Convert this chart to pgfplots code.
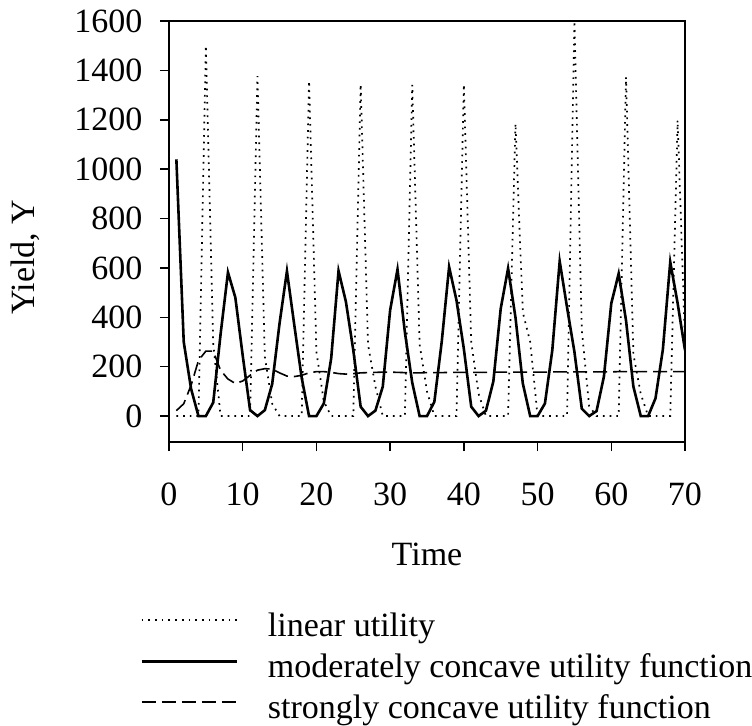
\documentclass[border=0pt]{standalone}
\usepackage{fontspec}
\setmainfont{Liberation Serif}
\usepackage{pgfplots}
\pgfplotsset{compat=1.18}
\usepackage{pgfplotstable}

\pgfplotstableread{
t lin mod str
1 0 1040 22
2 0 300 50
3 0 110 125
4 0 0 225
5 1500 0 263
6 294 55 263
7 0 332 185
8 0 582 150
9 0 480 132
10 0 245 142
11 0 24 165
12 1377 0 186
13 240 24 192
14 50 130 190
15 0 376 175
16 0 587 162
17 0 368 160
18 0 155 165
19 1357 0 175
20 260 0 180
21 60 51 180
22 0 233 177
23 0 588 172
24 0 463 170
25 0 267 172
26 1343 38 175
27 290 0 176
28 120 22 177
29 0 119 178
30 0 429 178
31 0 594 177
32 0 340 176
33 1341 135 175
34 290 0 175
35 100 0 176
36 0 58 176
37 0 301 176
38 0 604 177
39 0 469 177
40 1343 272 177
41 300 38 177
42 90 0 177
43 0 22 177
44 0 140 178
45 0 435 178
46 0 598 178
47 1184 400 178
48 420 132 178
49 300 0 178
50 0 0 178
51 0 51 178
52 0 267 179
53 0 627 179
54 0 440 179
55 1600 260 179
56 350 30 179
57 40 0 179
58 0 20 179
59 0 160 179
60 0 456 179
61 0 577 180
62 1373 387 180
63 250 119 180
64 90 0 180
65 0 0 180
66 0 72 180
67 0 270 180
68 0 624 180
69 1198 457 180
70 300 267 180
}\datatable

\begin{document}
\begin{tikzpicture}
\begin{axis}[
  at={(0,0)}, anchor=south west,
  scale only axis, width=516bp, height=421bp,
  xmin=0, xmax=70, ymin=-105, ymax=1600,
  xtick={0,10,...,70}, ytick={0,200,...,1600},
  tick align=outside, major tick length=9bp, tick pos=left,
  axis line style={line width=1.8bp},
  major tick style={line width=1.5bp, black},
  /pgf/number format/assume math mode=true,
  /pgf/number format/1000 sep={},
  ticklabel style={font=\fontsize{34bp}{40bp}\selectfont},
  xticklabel shift=28bp,
  yticklabel shift=14bp,
  label style={font=\fontsize{34bp}{40bp}\selectfont},
  xlabel={Time}, ylabel={Yield, Y},
  xlabel style={at={(axis description cs:0.5,-0.268)}, anchor=center},
  ylabel style={at={(axis description cs:-0.279,0.439)}, anchor=center},
  legend style={at={(axis description cs:-0.056,-0.404)}, anchor=north west,
    draw=none, fill=none, inner sep=0pt, column sep=30bp, row sep=9bp,
    font=\fontsize{34bp}{40bp}\selectfont,
    nodes={inner sep=0pt, text height=24bp, text depth=8bp}},
  legend cell align=left,
  legend image code/.code={\draw[#1] (0bp,8bp) -- (95bp,8bp);},
]
\addplot[black, line width=1.7bp, dash pattern=on 1.7bp off 5bp] table[x=t, y=lin] {\datatable};
\addlegendentry{linear utility}
\addplot[black, line width=2.6bp, line join=miter] table[x=t, y=mod] {\datatable};
\addlegendentry{moderately concave utility function}
\addplot[black, line width=1.6bp, dash pattern=on 14bp off 6bp] table[x=t, y=str] {\datatable};
\addlegendentry{strongly concave utility function}
\end{axis}
\pgfresetboundingbox
\path[use as bounding box] (-169bp,-284bp) rectangle (583bp,442bp);
\end{tikzpicture}
\end{document}
